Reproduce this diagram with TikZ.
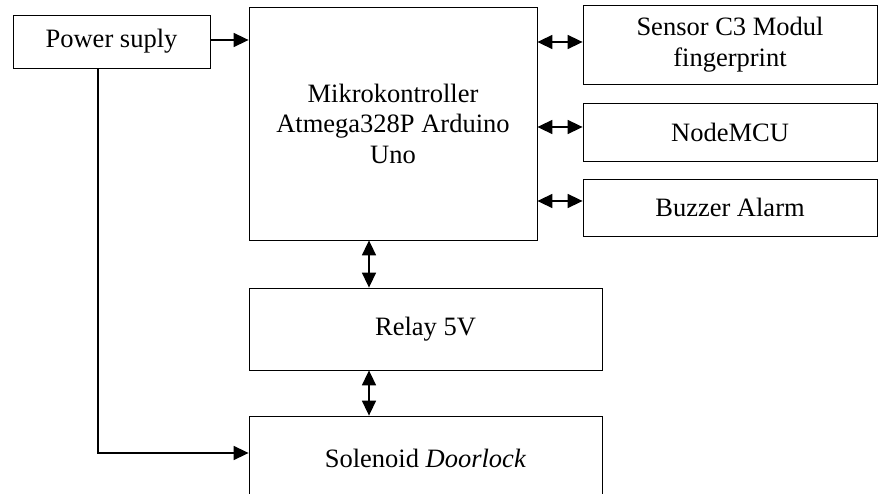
\documentclass[tikz,border=0pt]{standalone}
\usepackage{fontspec}
\setmainfont{Liberation Serif}
\usepackage{tikz}
\usetikzlibrary{positioning,arrows.meta}

\begin{document}
\begin{tikzpicture}[
			x=1pt, y=-1pt
			,every node/.append style={font=\fontsize{26.5}{30.5}\selectfont}
			,blok/.style={rectangle, draw, line width=0.8pt, align=center, inner sep=0pt}
			,panah/.style={line width=1.6pt, -{Triangle[length=15pt,width=14pt]}}
			,duapanah/.style={line width=1.6pt, {Triangle[length=15pt,width=14pt]}-{Triangle[length=15pt,width=14pt]}}
		]
			\useasboundingbox (0,0) rectangle (879,494);
			\clip (0,0) rectangle (879,494);
			\node [blok, minimum width=197pt, minimum height=53pt] (psu) at (111.5,41.5) {Power suply};
			\node [blok, minimum width=288pt, minimum height=233pt] (mcu) at (393,123.5) {Mikrokontroller\\Atmega328P Arduino\\Uno};
			\node [blok, minimum width=294pt, minimum height=79pt] (sensor) at (730,44.5) {Sensor C3 Modul\\fingerprint};
			\node [blok, minimum width=294pt, minimum height=58pt] (nodemcu) at (730,132) {NodeMCU};
			\node [blok, minimum width=294pt, minimum height=57pt] (buzzer) at (730,207.5) {Buzzer Alarm};
			\node [blok, minimum width=353pt, minimum height=82pt] (relay) at (425.5,329) {Relay 5V};
			\node [blok, minimum width=353pt, minimum height=84pt] (sol) at (425.5,458) {Solenoid \textit{Doorlock}};

			\draw [panah] ([yshift=1.5pt]psu.east) -- ([yshift=1.5pt]psu.east -| mcu.west);
			\draw [duapanah] ([yshift=2.5pt]mcu.east |- sensor.west) -- ([yshift=2.5pt]sensor.west);
			\draw [duapanah] ([yshift=5pt]mcu.east |- nodemcu.west) -- ([yshift=5pt]nodemcu.west);
			\draw [duapanah] ([yshift=6.5pt]mcu.east |- buzzer.west) -- ([yshift=6.5pt]buzzer.west);
			\draw [duapanah] ([xshift=-24pt]mcu.south) -- ([xshift=-24pt]mcu.south |- relay.north);
			\draw [duapanah] ([xshift=-56.5pt]relay.south) -- ([xshift=-56.5pt]relay.south |- sol.north);
			\draw [panah] ([xshift=-13.5pt]psu.south) |- ([yshift=5pt]sol.west);
		\end{tikzpicture}
\end{document}
